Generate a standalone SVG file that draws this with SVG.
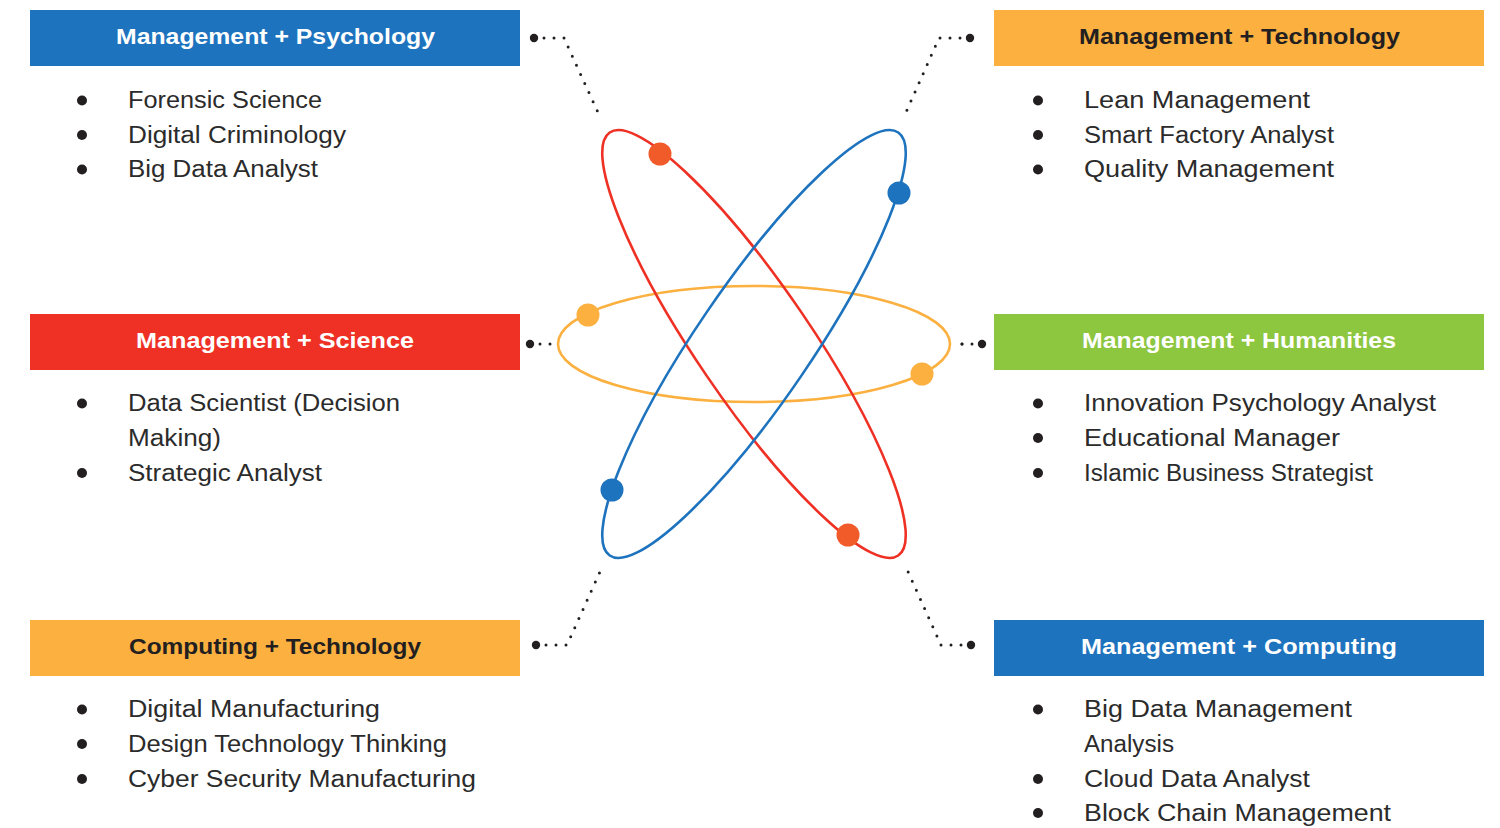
<svg xmlns="http://www.w3.org/2000/svg" width="1500" height="828" viewBox="0 0 1500 828">
<style>
.hd{font-family:"Liberation Sans",Arial,sans-serif;font-weight:bold;font-size:22.5px;text-anchor:middle;}
.w{fill:#ffffff;}
.k{fill:#231F20;}
.it{font-family:"Liberation Sans",Arial,sans-serif;font-size:23px;fill:#2B2B2B;}
.bl{fill:#231F20;}
.orb{fill:none;stroke-width:2.6;}
.dl{fill:none;stroke:#231F20;stroke-width:3;stroke-linecap:round;stroke-dasharray:0 10;}
.end{fill:#231F20;}
</style>
<rect width="1500" height="828" fill="#ffffff"/>

<g id="atom">
<ellipse class="orb" cx="754" cy="344" rx="196" ry="58" stroke="#FBB040"/>
<ellipse class="orb" cx="754" cy="344" rx="256" ry="57" stroke="#EE3124" transform="rotate(55.7 754 344)"/>
<ellipse class="orb" cx="754" cy="344" rx="256" ry="57" stroke="#1E73BE" transform="rotate(-55.7 754 344)"/>
<circle cx="660" cy="154" r="11.5" fill="#F15A29"/>
<circle cx="848" cy="535" r="11.5" fill="#F15A29"/>
<circle cx="899" cy="193" r="11.5" fill="#1E73BE"/>
<circle cx="612" cy="490" r="11.5" fill="#1E73BE"/>
<circle cx="588" cy="315" r="11.5" fill="#FBB040"/>
<circle cx="922" cy="374" r="11.5" fill="#FBB040"/>
</g>

<g id="connectors">
<path class="dl" d="M534,38 L564,38 L601,119"/>
<circle class="end" cx="534" cy="38" r="4.2"/>
<path class="dl" d="M970,38 L939,38 L903,119"/>
<circle class="end" cx="970" cy="38" r="4.2"/>
<path class="dl" d="M530,344 L551,344"/>
<circle class="end" cx="530" cy="344" r="4.2"/>
<path class="dl" d="M982,344 L961,344"/>
<circle class="end" cx="982" cy="344" r="4.2"/>
<circle class="end" cx="962" cy="344" r="1.5"/>
<path class="dl" d="M536,645 L567,645 L603,565"/>
<circle class="end" cx="536" cy="645" r="4.2"/>
<path class="dl" d="M971,645 L941,645 L905,565"/>
<circle class="end" cx="971" cy="645" r="4.2"/>
</g>

<g id="mgmt-psychology">
<rect x="30" y="10" width="490" height="56" fill="#1E73BE"/>
<text class="hd w" x="275.5" y="44" textLength="319" lengthAdjust="spacingAndGlyphs">Management + Psychology</text>
<circle class="bl" cx="82" cy="100.5" r="5"/>
<circle class="bl" cx="82" cy="135" r="5"/>
<circle class="bl" cx="82" cy="169.5" r="5"/>
<text class="it" x="128" y="108" textLength="194" lengthAdjust="spacingAndGlyphs">Forensic Science</text>
<text class="it" x="128" y="142.5" textLength="218" lengthAdjust="spacingAndGlyphs">Digital Criminology</text>
<text class="it" x="128" y="177" textLength="190" lengthAdjust="spacingAndGlyphs">Big Data Analyst</text>
</g>

<g id="mgmt-science">
<rect x="30" y="314" width="490" height="56" fill="#EE3124"/>
<text class="hd w" x="275" y="348" textLength="278" lengthAdjust="spacingAndGlyphs">Management + Science</text>
<circle class="bl" cx="82" cy="403.5" r="5"/>
<circle class="bl" cx="82" cy="473" r="5"/>
<text class="it" x="128" y="411" textLength="272" lengthAdjust="spacingAndGlyphs">Data Scientist (Decision</text>
<text class="it" x="128" y="446" textLength="93" lengthAdjust="spacingAndGlyphs">Making)</text>
<text class="it" x="128" y="480.5" textLength="194" lengthAdjust="spacingAndGlyphs">Strategic Analyst</text>
</g>

<g id="computing-technology">
<rect x="30" y="620" width="490" height="56" fill="#FBB040"/>
<text class="hd k" x="275" y="653.5" textLength="292" lengthAdjust="spacingAndGlyphs">Computing + Technology</text>
<circle class="bl" cx="82" cy="709.5" r="5"/>
<circle class="bl" cx="82" cy="744" r="5"/>
<circle class="bl" cx="82" cy="779" r="5"/>
<text class="it" x="128" y="717" textLength="252" lengthAdjust="spacingAndGlyphs">Digital Manufacturing</text>
<text class="it" x="128" y="752" textLength="319" lengthAdjust="spacingAndGlyphs">Design Technology Thinking</text>
<text class="it" x="128" y="787" textLength="348" lengthAdjust="spacingAndGlyphs">Cyber Security Manufacturing</text>
</g>

<g id="mgmt-technology">
<rect x="994" y="10" width="490" height="56" fill="#FBB040"/>
<text class="hd k" x="1239.5" y="44" textLength="321" lengthAdjust="spacingAndGlyphs">Management + Technology</text>
<circle class="bl" cx="1038" cy="100.5" r="5"/>
<circle class="bl" cx="1038" cy="135" r="5"/>
<circle class="bl" cx="1038" cy="169.5" r="5"/>
<text class="it" x="1084" y="108" textLength="226" lengthAdjust="spacingAndGlyphs">Lean Management</text>
<text class="it" x="1084" y="142.5" textLength="250" lengthAdjust="spacingAndGlyphs">Smart Factory Analyst</text>
<text class="it" x="1084" y="177" textLength="250" lengthAdjust="spacingAndGlyphs">Quality Management</text>
</g>

<g id="mgmt-humanities">
<rect x="994" y="314" width="490" height="56" fill="#8DC63F"/>
<text class="hd w" x="1239" y="348" textLength="314" lengthAdjust="spacingAndGlyphs">Management + Humanities</text>
<circle class="bl" cx="1038" cy="403.5" r="5"/>
<circle class="bl" cx="1038" cy="438" r="5"/>
<circle class="bl" cx="1038" cy="473" r="5"/>
<text class="it" x="1084" y="411" textLength="352" lengthAdjust="spacingAndGlyphs">Innovation Psychology Analyst</text>
<text class="it" x="1084" y="446" textLength="256" lengthAdjust="spacingAndGlyphs">Educational Manager</text>
<text class="it" x="1084" y="480.5" textLength="289" lengthAdjust="spacingAndGlyphs">Islamic Business Strategist</text>
</g>

<g id="mgmt-computing">
<rect x="994" y="620" width="490" height="56" fill="#1E73BE"/>
<text class="hd w" x="1239" y="653.5" textLength="316" lengthAdjust="spacingAndGlyphs">Management + Computing</text>
<circle class="bl" cx="1038" cy="709.5" r="5"/>
<circle class="bl" cx="1038" cy="779" r="5"/>
<circle class="bl" cx="1038" cy="813" r="5"/>
<text class="it" x="1084" y="717" textLength="268" lengthAdjust="spacingAndGlyphs">Big Data Management</text>
<text class="it" x="1084" y="752" textLength="90" lengthAdjust="spacingAndGlyphs">Analysis</text>
<text class="it" x="1084" y="787" textLength="226" lengthAdjust="spacingAndGlyphs">Cloud Data Analyst</text>
<text class="it" x="1084" y="821" textLength="307" lengthAdjust="spacingAndGlyphs">Block Chain Management</text>
</g>
</svg>
